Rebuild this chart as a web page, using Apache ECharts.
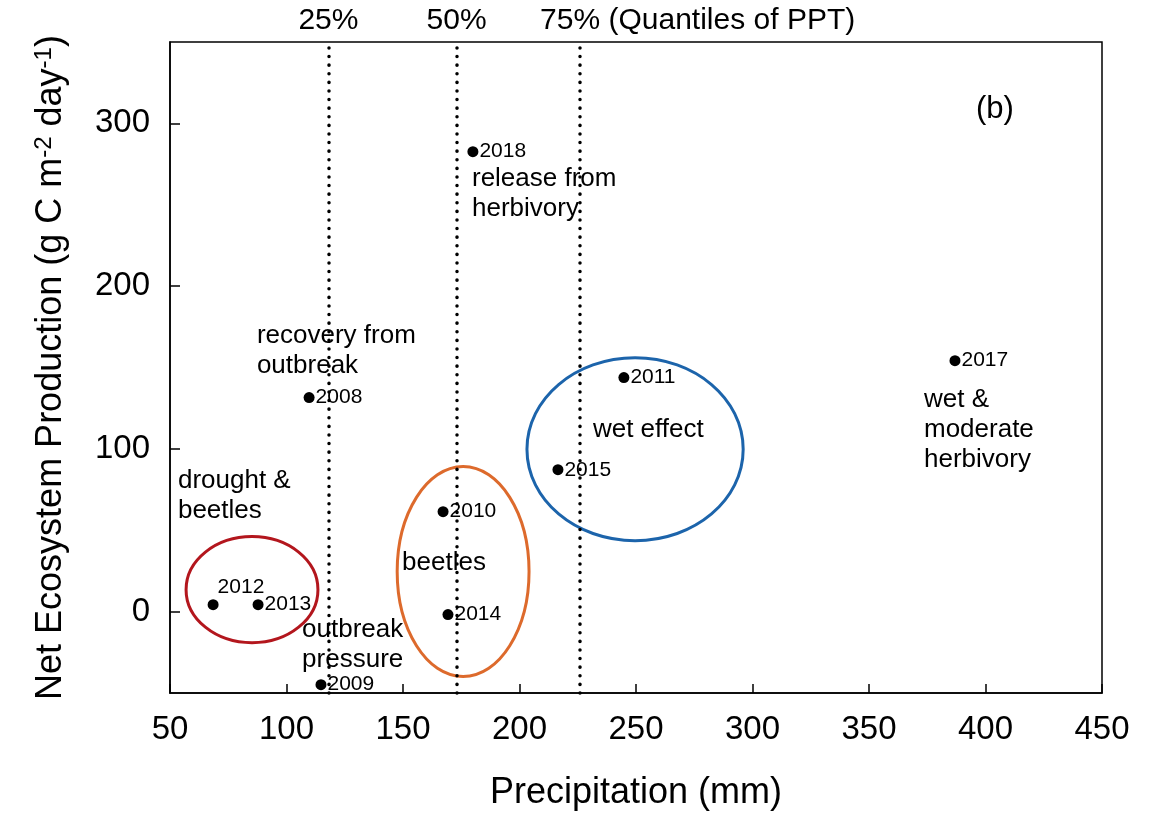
<!DOCTYPE html>
<html>
<head>
<meta charset="utf-8">
<script src="https://cdn.jsdelivr.net/npm/echarts@6/dist/echarts.min.js"></script>
<style>
html, body { margin: 0; padding: 0; background: #fff; }
#chart { width: 1157px; height: 816px; }
</style>
</head>
<body>
<div id="chart"></div>
<script>
// year, precipitation (mm), NEP
const years = ['2008', '2009', '2010', '2011', '2012', '2013', '2014', '2015', '2017', '2018']
const precip = [109.7, 114.8, 167.2, 244.8, 68.5, 87.8, 169.3, 216.5, 386.9, 180.0]
const nep = [131.5, -44.9, 61.4, 143.8, 4.3, 4.3, -1.8, 87.2, 154.2, 282.6]

// PPT quantiles
const quantiles = [118, 173, 226]
const quantileNames = ['25%', '50%', '75% (Quantiles of PPT)']

// grouping ellipses (centre and half axes in data units)
const ellX = [85.2, 175.8, 249.6]
const ellY = [13.5, 24.6, 99.8]
const ellRx = [28.3, 28.3, 46.4]
const ellRy = [32.6, 64.5, 56.2]
const ellColors = ['#b3161d', '#dd6a2c', '#1c64ab']

// text notes, anchored at their left / middle
const notes = ['recovery from\noutbreak', 'drought &\nbeetles', 'outbreak\npressure', 'beetles',
  'wet effect', 'release from\nherbivory', 'wet &\nmoderate\nherbivory', '(b)']
const noteX = [87.3, 53.4, 106.7, 149.6, 231.5, 179.6, 373.6, 395.9]
const noteY = [160.4, 71.3, -20.3, 30.1, 111.8, 256.8, 111.8, 308.4]

const FONT = '"Liberation Sans", Arial, sans-serif'

const chart = echarts.init(document.getElementById('chart'))

const option = {
  backgroundColor: '#fff',
  textStyle: { fontFamily: FONT, color: '#000' },
  grid: { left: 170, right: 55, top: 42, bottom: 123, show: true, borderColor: '#000', borderWidth: 1.5 },
  xAxis: {
    type: 'value', min: 50, max: 450, interval: 50,
    name: 'Precipitation (mm)', nameLocation: 'middle', nameGap: 82,
    nameTextStyle: { fontSize: 36, color: '#000', fontFamily: FONT },
    axisLine: { onZero: false, lineStyle: { color: '#000', width: 1.5 } },
    axisTick: { inside: true, length: 9, lineStyle: { color: '#000', width: 1.5 } },
    axisLabel: { fontSize: 33, color: '#000', margin: 20, fontFamily: FONT },
    splitLine: { show: false }
  },
  yAxis: {
    type: 'value', min: -50, max: 350, interval: 50,
    name: 'Net Ecosystem Production (g C m{sup|-2} day{sup|-1})',
    nameLocation: 'middle', nameGap: 100,
    nameTextStyle: {
      fontSize: 36, color: '#000', fontFamily: FONT,
      rich: { sup: { fontSize: 24, verticalAlign: 'top', color: '#000', fontFamily: FONT, padding: [0, 0, 14, 0] } }
    },
    axisLine: { onZero: false, lineStyle: { color: '#000', width: 1.5 } },
    axisTick: { inside: true, length: 10, customValues: [0, 100, 200, 300], lineStyle: { color: '#000', width: 1.5 } },
    axisLabel: { fontSize: 33, color: '#000', margin: 20, customValues: [0, 100, 200, 300], fontFamily: FONT },
    splitLine: { show: false }
  },
  series: [
    {
      type: 'custom',
      silent: true,
      clip: false,
      data: ellX.map((x, i) => [x, ellY[i], ellRx[i], ellRy[i]]),
      renderItem: (params, api) => {
        const c = api.coord([api.value(0), api.value(1)])
        const s = api.size([api.value(2), api.value(3)])
        return {
          type: 'ellipse',
          shape: { cx: c[0], cy: c[1], rx: s[0], ry: s[1] },
          style: { fill: 'none', stroke: ellColors[params.dataIndex], lineWidth: 3 }
        }
      },
      z: 2
    },
    {
      type: 'scatter',
      symbol: 'circle',
      symbolSize: 11,
      itemStyle: { color: '#000', opacity: 1 },
      label: {
        show: true, position: 'right', distance: 1,
        fontSize: 21, color: '#000', fontFamily: FONT,
        formatter: p => p.name
      },
      data: years.map((y, i) => {
        const d = { name: y, value: [precip[i], nep[i]] }
        if (y === '2012') d.label = { offset: [-2, -17] }
        return d
      }),
      markLine: {
        silent: true,
        symbol: 'none',
        lineStyle: { color: '#000', width: 3.5, type: [0.1, 8.5], cap: 'round', opacity: 1 },
        label: { show: true, position: 'end', distance: 6, fontSize: 30, color: '#000', fontFamily: FONT },
        data: quantiles.map((q, i) => ({
          xAxis: q,
          label: i === 2 ? { formatter: quantileNames[i], align: 'left', offset: [-40, 0] } : { formatter: quantileNames[i] }
        }))
      },
      z: 3
    },
    {
      type: 'scatter',
      symbolSize: 0,
      silent: true,
      itemStyle: { opacity: 1 },
      label: {
        show: true, position: 'inside', align: 'left', verticalAlign: 'middle',
        fontSize: 26, lineHeight: 30, color: '#000', fontFamily: FONT,
        formatter: p => p.name
      },
      data: notes.map((t, i) => {
        const d = { name: t, value: [noteX[i], noteY[i]] }
        if (t === '(b)') d.label = { fontSize: 31 }
        return d
      }),
      z: 4
    }
  ]
}

chart.setOption(option)
</script>
</body>
</html>
